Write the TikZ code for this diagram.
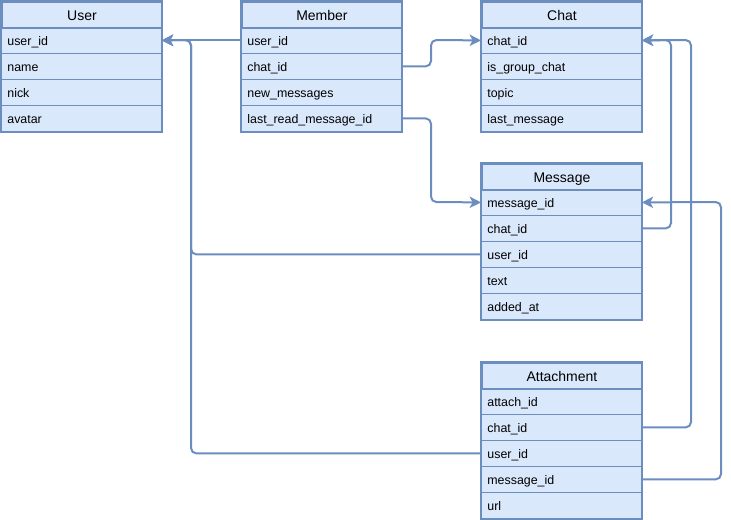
\documentclass[tikz,border=0pt]{standalone}
\usepackage{fontspec}
\setmainfont{Liberation Sans}
\usetikzlibrary{arrows.meta}
\definecolor{fillc}{HTML}{DAE8FC}
\definecolor{bordc}{HTML}{6C8EBF}
\tikzset{
  rowbox/.style={draw=bordc, fill=fillc, line width=0.6pt, anchor=north west,
    inner xsep=4.5pt, inner ysep=0pt, text width=111pt, align=left,
    minimum height=19.5pt, font=\fontsize{9.3pt}{10pt}\selectfont,
    text height=7.8pt, text depth=0pt},
  titlebox/.style={draw=bordc, fill=fillc, line width=1.4pt, anchor=north west,
    inner sep=0pt, minimum width=120pt, minimum height=19.5pt, align=center,
    font=\fontsize{10.5pt}{12pt}\selectfont, text height=9pt, text depth=0pt},
  frame/.style={draw=bordc, line width=1.4pt},
  conn/.style={draw=bordc, line width=1.5pt, rounded corners=4pt,
    -{Stealth[length=8.5pt,width=8.5pt,inset=2.2pt]}},
}
\begin{document}
\begin{tikzpicture}[x=0.75pt,y=-0.75pt]
\useasboundingbox (0,0) rectangle (731,520);
% User
\node[rowbox] (user-user_id) at (1,27) {user\_id};
\node[rowbox] (user-name) at (1,53) {name};
\node[rowbox] (user-nick) at (1,79) {nick};
\node[rowbox] (user-avatar) at (1,105) {avatar};
\node[titlebox] (user-title) at (1,1) {User};
\draw[frame] (user-title.north west) rectangle (user-avatar.south east);
% Member
\node[rowbox] (member-user_id) at (241,27) {user\_id};
\node[rowbox] (member-chat_id) at (241,53) {chat\_id};
\node[rowbox] (member-new_messages) at (241,79) {new\_messages};
\node[rowbox] (member-last) at (241,105) {last\_read\_message\_id};
\node[titlebox] (member-title) at (241,1) {Member};
\draw[frame] (member-title.north west) rectangle (member-last.south east);
% Chat
\node[rowbox] (chat-chat_id) at (481,27) {chat\_id};
\node[rowbox] (chat-is_group) at (481,53) {is\_group\_chat};
\node[rowbox] (chat-topic) at (481,79) {topic};
\node[rowbox] (chat-last) at (481,105) {last\_message};
\node[titlebox] (chat-title) at (481,1) {Chat};
\draw[frame] (chat-title.north west) rectangle (chat-last.south east);
% Message
\node[rowbox] (message-message_id) at (481,189) {message\_id};
\node[rowbox] (message-chat_id) at (481,215) {chat\_id};
\node[rowbox] (message-user_id) at (481,241) {user\_id};
\node[rowbox] (message-text) at (481,267) {text};
\node[rowbox] (message-added_at) at (481,293) {added\_at};
\node[titlebox] (message-title) at (481,163) {Message};
\draw[frame] (message-title.north west) rectangle (message-added_at.south east);
% Attachment
\node[rowbox] (att-attach_id) at (481,388) {attach\_id};
\node[rowbox] (att-chat_id) at (481,414) {chat\_id};
\node[rowbox] (att-user_id) at (481,440) {user\_id};
\node[rowbox] (att-message_id) at (481,466) {message\_id};
\node[rowbox] (att-url) at (481,492) {url};
\node[titlebox] (att-title) at (481,362) {Attachment};
\draw[frame] (att-title.north west) rectangle (att-url.south east);
% bend coordinates
\coordinate (ux) at (191,40);
\coordinate (mc) at (431,40);
\coordinate (ml) at (431,202);
\coordinate (cx1) at (671,40);
\coordinate (cx2) at (691,40);
\coordinate (mx) at (721,202);
% connectors
\draw[conn] (member-user_id.west) -- (user-user_id.east);
\draw[conn] (message-user_id.west) -| (ux) -- (user-user_id.east);
\draw[conn] (att-user_id.west) -| (ux) -- (user-user_id.east);
\draw[conn] (member-chat_id.east) -| (mc) -- (chat-chat_id.west);
\draw[conn] (member-last.east) -| (ml) -- (message-message_id.west);
\draw[conn] (message-chat_id.east) -| (cx1) -- (chat-chat_id.east);
\draw[conn] (att-chat_id.east) -| (cx2) -- (chat-chat_id.east);
\draw[conn] (att-message_id.east) -| (mx) -- (message-message_id.east);
\end{tikzpicture}
\end{document}
